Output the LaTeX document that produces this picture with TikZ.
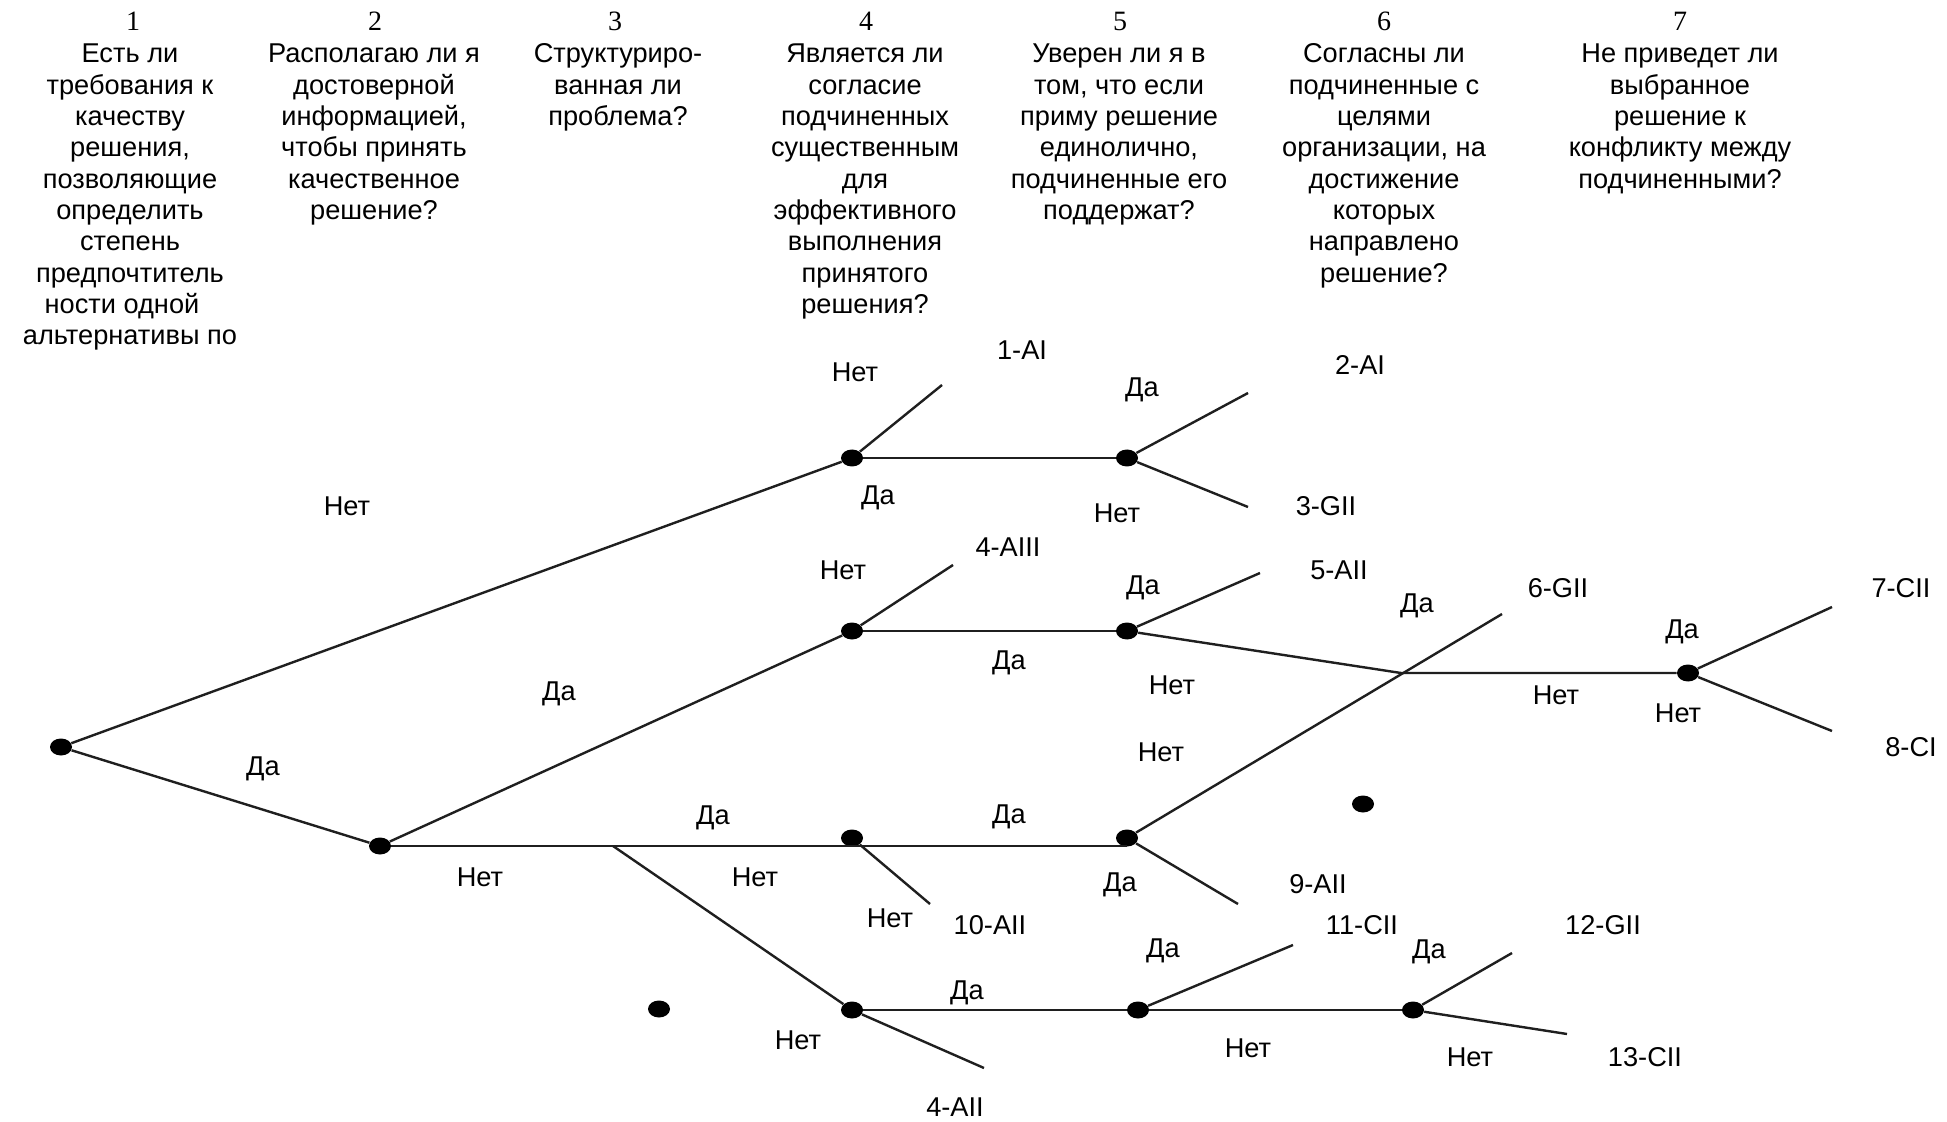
\documentclass[tikz,border=0pt]{standalone}
\usepackage{fontspec}
\setmainfont{Liberation Sans}
\newfontfamily\numfont{Liberation Serif}
\usetikzlibrary{shapes.geometric}
\begin{document}
\begin{tikzpicture}[x=0.5pt,y=-0.5pt,
  dot/.style={ellipse, fill=black, inner sep=0pt, minimum width=11pt, minimum height=8.5pt},
  edge/.style={line width=1.2pt, black!88},
  lbl/.style={inner sep=0pt, font=\fontsize{13.6pt}{15.65pt}\selectfont},
  hdr/.style={inner sep=0pt, anchor=base, font=\fontsize{13.6pt}{15.65pt}\selectfont},
  num/.style={inner sep=0pt, font=\numfont\fontsize{14pt}{16pt}\selectfont}]
\fill[white] (0,0) rectangle (1947,1122);
\useasboundingbox (0,0) rectangle (1947,1122);

% column numbers
\node[num] (n1) at (133,21) {1};
\node[num] (n2) at (375,21) {2};
\node[num] (n3) at (615,21) {3};
\node[num] (n4) at (866,21) {4};
\node[num] (n5) at (1120,21) {5};
\node[num] (n6) at (1384,21) {6};
\node[num] (n7) at (1680,21) {7};

% column questions
\node[hdr] (q1) at (130,63) {\begin{tabular}[t]{@{}c@{}}Есть ли\\требования к\\качеству\\решения,\\позволяющие\\определить\\степень\\предпочтитель\\\hspace*{-8pt}ности одной\\альтернативы по\end{tabular}};
\node[hdr] (q2) at (374,63) {\begin{tabular}[t]{@{}c@{}}Располагаю ли я\\достоверной\\информацией,\\чтобы принять\\качественное\\решение?\end{tabular}};
\node[hdr] (q3) at (618,63) {\begin{tabular}[t]{@{}c@{}}Структуриро-\\ванная ли\\проблема?\end{tabular}};
\node[hdr] (q4) at (865,63) {\begin{tabular}[t]{@{}c@{}}Является ли\\согласие\\подчиненных\\существенным\\для\\эффективного\\выполнения\\принятого\\решения?\end{tabular}};
\node[hdr] (q5) at (1119,63) {\begin{tabular}[t]{@{}c@{}}Уверен ли я в\\том, что если\\приму решение\\единолично,\\подчиненные его\\поддержат?\end{tabular}};
\node[hdr] (q6) at (1384,63) {\begin{tabular}[t]{@{}c@{}}Согласны ли\\подчиненные с\\целями\\организации, на\\достижение\\которых\\направлено\\решение?\end{tabular}};
\node[hdr] (q7) at (1680,63) {\begin{tabular}[t]{@{}c@{}}Не приведет ли\\выбранное\\решение к\\конфликту между\\подчиненными?\end{tabular}};

% decision points
\node[dot] (R) at (61,747) {};
\node[dot] (A) at (380,846) {};
\node[dot] (B) at (852,458) {};
\node[dot] (C) at (852,631) {};
\node[dot] (D) at (852,838) {};
\node[dot] (E) at (852,1010) {};
\node[dot] (F) at (1127,458) {};
\node[dot] (G) at (1127,631) {};
\node[dot] (H) at (1127,838) {};
\node[dot] (I) at (1138,1010) {};
\node[dot] (J) at (1413,1010) {};
\node[dot] (K) at (1688,673) {};
\node[dot] (S1) at (1363,804) {};
\node[dot] (S2) at (659,1009) {};

% free ends and junctions
\coordinate (X) at (1401,673);
\coordinate (Y) at (613,846);
\coordinate (eB) at (942,385);
\coordinate (eF1) at (1248,393);
\coordinate (eF2) at (1248,507);
\coordinate (eC) at (953,565);
\coordinate (eG) at (1260,573);
\coordinate (eH1) at (1502,614);
\coordinate (eH2) at (1238,904);
\coordinate (eD) at (930,904);
\coordinate (eK1) at (1832,607);
\coordinate (eK2) at (1832,731);
\coordinate (eE) at (984,1068);
\coordinate (eI) at (1293,945);
\coordinate (eJ1) at (1512,953);
\coordinate (eJ2) at (1567,1034);

% connectors
\draw[edge] (R) -- (B);
\draw[edge] (R) -- (A);
\draw[edge] (A) -- (C);
\draw[edge] (A) -- (A -| H);
\draw[edge] (Y) -- (E);
\draw[edge] (D) -- (eD);
\draw[edge] (B) -- (F);
\draw[edge] (B) -- (eB);
\draw[edge] (F) -- (eF1);
\draw[edge] (F) -- (eF2);
\draw[edge] (C) -- (G);
\draw[edge] (C) -- (eC);
\draw[edge] (G) -- (eG);
\draw[edge] (G) -- (X) -- (K);
\draw[edge] (H) -- (eH1);
\draw[edge] (H) -- (eH2);
\draw[edge] (K) -- (eK1);
\draw[edge] (K) -- (eK2);
\draw[edge] (E) -- (I);
\draw[edge] (E) -- (eE);
\draw[edge] (I) -- (J);
\draw[edge] (I) -- (eI);
\draw[edge] (J) -- (eJ1);
\draw[edge] (J) -- (eJ2);

% branch labels
\node[lbl] (l1) at (347,506) {Нет};
\node[lbl] (l2) at (263,769) {Да};
\node[lbl] (l3) at (559,694) {Да};
\node[lbl] (l4) at (480,877) {Нет};
\node[lbl] (l5) at (713,818) {Да};
\node[lbl] (l6) at (755,877) {Нет};
\node[lbl] (l7) at (1009,817) {Да};
\node[lbl] (l8) at (890,918) {Нет};
\node[lbl] (l9) at (798,1040) {Нет};
\node[lbl] (l10) at (967,993) {Да};
\node[lbl] (l11) at (855,372) {Нет};
\node[lbl] (l12) at (878,498) {Да};
\node[lbl] (l13) at (1142,390) {Да};
\node[lbl] (l14) at (1117,513) {Нет};
\node[lbl] (l15) at (843,570) {Нет};
\node[lbl] (l16) at (1009,663) {Да};
\node[lbl] (l17) at (1143,588) {Да};
\node[lbl] (l18) at (1172,685) {Нет};
\node[lbl] (l19) at (1161,752) {Нет};
\node[lbl] (l20) at (1417,606) {Да};
\node[lbl] (l21) at (1556,695) {Нет};
\node[lbl] (l22) at (1682,632) {Да};
\node[lbl] (l23) at (1678,713) {Нет};
\node[lbl] (l24) at (1120,885) {Да};
\node[lbl] (l25) at (1163,951) {Да};
\node[lbl] (l26) at (1248,1048) {Нет};
\node[lbl] (l27) at (1429,952) {Да};
\node[lbl] (l28) at (1470,1057) {Нет};

% outcomes
\node[lbl] (o1) at (1022,350) {1-AI};
\node[lbl] (o2) at (1360,365) {2-AI};
\node[lbl] (o3) at (1326,506) {3-GII};
\node[lbl] (o4) at (1008,547) {4-AIII};
\node[lbl] (o5) at (1339,570) {5-AII};
\node[lbl] (o6) at (1558,588) {6-GII};
\node[lbl] (o7) at (1901,588) {7-CII};
\node[lbl] (o8) at (1911,747) {8-CI};
\node[lbl] (o9) at (1318,884) {9-AII};
\node[lbl] (o10) at (990,925) {10-AII};
\node[lbl] (o11) at (1362,925) {11-CII};
\node[lbl] (o12) at (1603,925) {12-GII};
\node[lbl] (o13) at (1645,1057) {13-CII};
\node[lbl] (o14) at (955,1107) {4-AII};
\end{tikzpicture}
\end{document}
